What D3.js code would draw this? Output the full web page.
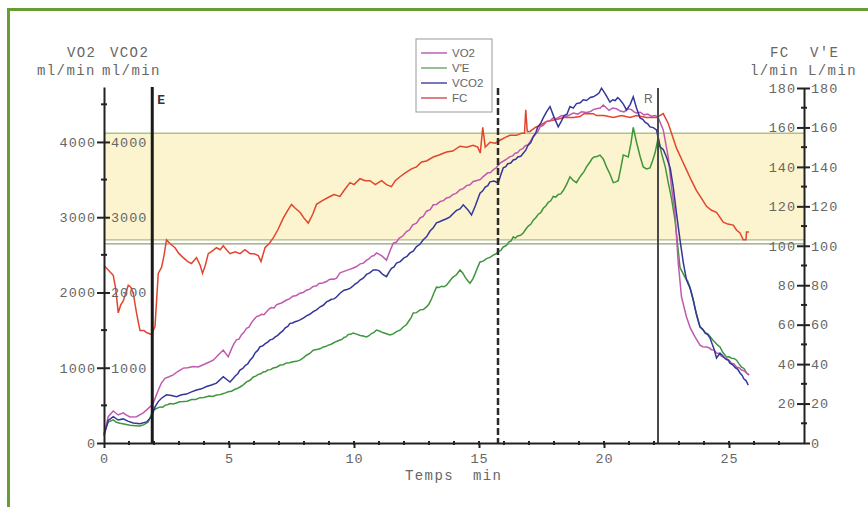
<!DOCTYPE html>
<html>
<head>
<meta charset="utf-8">
<script src="https://cdn.jsdelivr.net/npm/d3@7"></script>
<style>
  body { margin: 0; background: #fff; }
  svg { display: block; }
</style>
</head>
<body>
<svg id="chart" width="868" height="507"></svg>
<script>
// tick values
const xMajor = [0, 5, 10, 15, 20, 25];
const leftOuterTicks = [0, 1000, 2000, 3000, 4000];
const leftInnerTicks = [1000, 2000, 3000, 4000];
const rightOuterTicks = [0, 20, 40, 60, 80, 100, 120, 140, 160, 180];
const rightInnerTicks = [20, 40, 60, 80, 100, 120, 140, 160, 180];

// target zone (FC, 1/min) and event markers (min)
const zoneTop = 157, zoneBottom = 103, zoneBottom2 = 101;
const markE = 1.93, markSeuil = 15.76, markR = 22.16;

// series [temps min, value]
const fcData = [[0,90],[0.15,88],[0.37,85],[0.47,78],[0.57,66],[0.67,70],[0.77,72],[0.97,80],[1.07,79],[1.17,76],[1.3,66],[1.44,57],[1.6,57],[1.7,56],[1.9,55],[2.04,59],[2.17,86],[2.3,89],[2.4,95],[2.5,103],[2.65,101],[2.84,99],[3.0,96],[3.17,94],[3.35,92],[3.5,91],[3.7,94],[3.85,90],[3.94,86],[4.05,90],[4.17,96],[4.3,97],[4.5,99],[4.65,98],[4.77,100],[4.9,98],[5.04,96],[5.25,97],[5.44,96],[5.64,98],[5.84,96],[6.0,96],[6.17,95],[6.28,92],[6.44,99],[6.6,101],[6.77,104],[6.95,108],[7.17,114],[7.35,118],[7.5,121],[7.65,119],[7.84,117],[8.0,114],[8.17,111.5],[8.35,116],[8.5,121],[8.75,123],[9.04,125],[9.2,126],[9.44,125],[9.6,128],[9.84,132],[10.0,131],[10.24,134],[10.45,133],[10.64,133],[10.85,131],[11.1,133],[11.3,131],[11.5,130],[11.65,133],[11.84,135],[12.05,137],[12.3,139],[12.5,140],[12.7,142.5],[12.9,143],[13.17,145],[13.4,146],[13.7,147.5],[13.95,148],[14.24,150.5],[14.5,150],[14.77,151],[14.95,150],[15.05,147],[15.15,160],[15.25,150],[15.44,152.5],[15.65,152],[15.84,153.5],[16.05,155],[16.24,156],[16.5,156],[16.7,157],[16.82,157],[16.87,169],[16.93,158],[17.04,158],[17.25,160],[17.44,161],[17.7,163],[18.1,164],[18.4,165],[18.77,165],[19.04,165.5],[19.2,167],[19.57,167],[19.7,166],[20.0,166],[20.37,165],[20.7,166],[21.04,165],[21.3,166],[21.7,165],[22.1,165],[22.37,167],[22.57,162],[22.9,149.5],[23.1,144],[23.3,138.5],[23.5,133],[23.7,128],[23.9,124],[24.1,120],[24.3,118],[24.5,117],[24.77,112],[24.95,111],[25.17,110.5],[25.3,108],[25.44,106.5],[25.57,103],[25.68,103],[25.7,107],[25.8,107]];

const vo2Data = [[0,100],[0.17,350],[0.37,425],[0.57,372],[0.77,400],[0.9,370],[1.04,345],[1.3,350],[1.57,400],[1.84,480],[1.97,530],[2.17,700],[2.3,800],[2.44,860],[2.6,880],[2.77,905],[2.95,950],[3.17,995],[3.35,1000],[3.57,1015],[3.77,1010],[3.97,1040],[4.17,1070],[4.37,1100],[4.6,1180],[4.77,1235],[4.97,1145],[5.1,1250],[5.2,1320],[5.3,1370],[5.4,1380],[5.5,1440],[5.6,1470],[5.7,1525],[5.8,1540],[5.9,1600],[6.0,1640],[6.1,1680],[6.2,1690],[6.3,1710],[6.4,1705],[6.5,1745],[6.6,1780],[6.7,1800],[6.8,1795],[6.9,1835],[7.0,1850],[7.1,1860],[7.2,1880],[7.3,1900],[7.42,1915],[7.55,1950],[7.7,1960],[7.84,1990],[7.97,2000],[8.1,2030],[8.23,2045],[8.37,2080],[8.5,2090],[8.6,2120],[8.75,2125],[8.9,2145],[9.0,2170],[9.1,2180],[9.2,2175],[9.3,2190],[9.44,2260],[9.6,2280],[9.77,2300],[9.97,2325],[10.1,2345],[10.25,2380],[10.38,2390],[10.5,2430],[10.6,2445],[10.7,2480],[10.8,2490],[10.9,2525],[11.1,2490],[11.3,2430],[11.45,2560],[11.57,2655],[11.7,2670],[11.8,2720],[11.95,2750],[12.1,2810],[12.22,2830],[12.35,2900],[12.5,2920],[12.64,2990],[12.77,3010],[12.9,3080],[13.05,3100],[13.17,3165],[13.3,3170],[13.45,3210],[13.58,3220],[13.7,3255],[13.82,3265],[13.95,3300],[14.1,3320],[14.24,3365],[14.37,3380],[14.5,3420],[14.64,3430],[14.77,3475],[14.95,3490],[15.05,3500],[15.17,3540],[15.35,3590],[15.45,3590],[15.57,3630],[15.7,3660],[15.84,3720],[16.05,3760],[16.24,3805],[16.35,3815],[16.45,3850],[16.55,3860],[16.64,3895],[16.75,3910],[16.85,3950],[16.95,3960],[17.04,4000],[17.15,4060],[17.25,4100],[17.35,4130],[17.44,4200],[17.57,4220],[17.7,4270],[17.84,4280],[17.97,4320],[18.1,4310],[18.3,4350],[18.5,4340],[18.77,4385],[18.95,4370],[19.1,4400],[19.3,4390],[19.44,4400],[19.57,4430],[19.7,4440],[19.85,4450],[19.97,4490],[20.1,4450],[20.2,4420],[20.35,4450],[20.5,4440],[20.65,4410],[20.8,4400],[20.95,4440],[21.1,4430],[21.2,4400],[21.3,4385],[21.45,4395],[21.6,4360],[21.75,4370],[21.9,4340],[22.05,4350],[22.16,4330],[22.37,4160],[22.57,3800],[22.7,3400],[22.84,3055],[22.97,2390],[23.1,1940],[23.3,1675],[23.45,1530],[23.64,1410],[23.84,1300],[23.95,1280],[24.1,1275],[24.2,1265],[24.3,1240],[24.4,1235],[24.5,1195],[24.6,1190],[24.7,1150],[24.8,1140],[24.9,1105],[25.0,1100],[25.1,1060],[25.2,1050],[25.3,1010],[25.4,1000],[25.5,970],[25.6,960],[25.7,930],[25.8,905]];

const vco2Data = [[0,100],[0.17,300],[0.37,350],[0.57,305],[0.77,320],[0.95,290],[1.17,265],[1.44,255],[1.7,280],[1.9,350],[2.04,480],[2.17,550],[2.3,595],[2.5,640],[2.7,630],[2.9,615],[3.1,640],[3.3,650],[3.5,680],[3.7,705],[3.9,720],[4.1,750],[4.3,770],[4.5,795],[4.77,880],[5.04,810],[5.15,850],[5.25,890],[5.35,920],[5.44,970],[5.55,990],[5.65,1030],[5.75,1050],[5.84,1100],[5.95,1140],[6.05,1200],[6.15,1230],[6.24,1280],[6.35,1290],[6.45,1320],[6.55,1340],[6.64,1370],[6.75,1380],[6.85,1410],[6.95,1430],[7.04,1460],[7.15,1490],[7.25,1530],[7.35,1550],[7.44,1590],[7.54,1595],[7.64,1610],[7.74,1620],[7.84,1635],[7.97,1660],[8.1,1690],[8.23,1710],[8.37,1745],[8.5,1770],[8.65,1810],[8.77,1830],[8.9,1875],[9.0,1890],[9.1,1910],[9.2,1915],[9.3,1940],[9.44,1990],[9.6,2030],[9.72,2040],[9.84,2055],[9.94,2080],[10.04,2110],[10.14,2130],[10.24,2165],[10.37,2190],[10.5,2240],[10.63,2260],[10.77,2300],[10.9,2300],[11.0,2290],[11.15,2240],[11.3,2210],[11.4,2270],[11.5,2320],[11.6,2340],[11.7,2390],[11.85,2410],[12.0,2460],[12.12,2480],[12.24,2525],[12.37,2550],[12.5,2610],[12.64,2640],[12.77,2700],[12.9,2740],[13.05,2820],[13.17,2860],[13.3,2925],[13.42,2940],[13.55,2960],[13.7,2980],[13.84,3005],[13.97,3050],[14.1,3090],[14.24,3110],[14.37,3165],[14.55,3100],[14.7,3030],[14.85,3150],[14.95,3240],[15.04,3320],[15.15,3350],[15.25,3400],[15.35,3420],[15.44,3470],[15.6,3480],[15.77,3455],[15.87,3560],[15.97,3655],[16.07,3670],[16.15,3710],[16.27,3720],[16.37,3760],[16.47,3770],[16.55,3800],[16.67,3810],[16.77,3850],[16.87,3890],[16.95,3950],[17.07,3990],[17.17,4070],[17.27,4120],[17.35,4200],[17.47,4250],[17.57,4320],[17.7,4400],[17.84,4470],[18.0,4330],[18.17,4200],[18.3,4280],[18.4,4350],[18.52,4370],[18.64,4470],[18.77,4450],[18.9,4510],[19.05,4520],[19.17,4560],[19.3,4550],[19.45,4590],[19.57,4600],[19.7,4625],[19.8,4650],[19.9,4715],[20.05,4640],[20.24,4530],[20.35,4560],[20.45,4550],[20.55,4590],[20.64,4560],[20.78,4500],[20.9,4425],[21.05,4500],[21.17,4600],[21.3,4450],[21.44,4320],[21.55,4300],[21.65,4260],[21.75,4240],[21.84,4200],[21.97,4190],[22.1,4160],[22.24,3935],[22.37,3900],[22.5,3800],[22.65,3650],[22.77,3400],[22.9,3050],[23.04,2700],[23.17,2400],[23.3,2165],[23.45,2050],[23.57,1900],[23.7,1700],[23.84,1540],[23.95,1510],[24.05,1460],[24.15,1440],[24.24,1395],[24.4,1250],[24.5,1130],[24.64,1195],[24.75,1160],[24.85,1120],[24.95,1110],[25.04,1060],[25.15,1040],[25.25,1000],[25.35,980],[25.44,930],[25.52,900],[25.6,850],[25.68,830],[25.77,770]];

const veData = [[0,5],[0.17,10.6],[0.37,11.7],[0.5,10.5],[0.64,10],[0.85,9.5],[1.04,9],[1.25,8.8],[1.44,8.6],[1.6,9.3],[1.77,10.6],[1.97,16.7],[2.1,17.5],[2.24,18.3],[2.35,18.1],[2.45,19.2],[2.55,19.4],[2.64,20],[2.77,19.8],[2.9,20.3],[3.03,20.9],[3.17,21],[3.33,21.2],[3.5,22],[3.67,22.1],[3.84,23],[4.0,23.1],[4.2,23.8],[4.35,23.6],[4.5,24.3],[4.62,24.4],[4.75,25],[4.86,25.4],[4.97,26],[5.1,26.2],[5.2,27],[5.32,27.6],[5.44,28.4],[5.57,29.5],[5.7,31],[5.84,31.8],[5.97,33.5],[6.07,33.9],[6.17,34.8],[6.27,35.1],[6.37,36],[6.47,36.2],[6.55,37],[6.66,37.2],[6.77,38],[6.9,38.4],[7.05,39.5],[7.17,39.7],[7.3,40.6],[7.42,40.7],[7.55,41.2],[7.7,41.4],[7.84,42],[7.97,43.2],[8.1,44.5],[8.23,45.4],[8.37,47],[8.55,47.5],[8.66,47.9],[8.77,48.7],[8.86,48.9],[8.95,49.5],[9.06,49.9],[9.17,50.7],[9.3,51.5],[9.44,52.2],[9.52,52.5],[9.6,53.5],[9.68,53.8],[9.77,55],[9.87,55.1],[9.97,55.8],[10.1,55.2],[10.25,54.5],[10.37,54.3],[10.5,53.8],[10.6,54.4],[10.7,55.5],[10.8,56.1],[10.9,57.3],[11.02,56.8],[11.15,56],[11.3,55.4],[11.44,54.8],[11.57,55.3],[11.7,56.5],[11.84,57.2],[11.97,58.8],[12.1,60.1],[12.2,62],[12.28,63.4],[12.37,65.9],[12.5,66.1],[12.65,67.5],[12.77,67.7],[12.9,69],[13.0,70.5],[13.1,73],[13.2,76.2],[13.3,79],[13.4,78.8],[13.5,79.5],[13.6,79.2],[13.7,80],[13.83,82.1],[13.95,84],[14.1,85.3],[14.24,87.7],[14.35,86.2],[14.45,84],[14.55,82.3],[14.64,81],[14.75,83.1],[14.85,86],[14.95,89.2],[15.04,91.8],[15.17,92.2],[15.3,93.5],[15.44,94.1],[15.57,95.3],[15.67,95.8],[15.77,97],[15.87,97.6],[15.97,99.4],[16.1,100.2],[16.2,102],[16.28,102.4],[16.37,104.5],[16.45,103.9],[16.55,105],[16.66,105.3],[16.77,106.5],[16.87,108.4],[16.97,110],[17.07,110.9],[17.17,113],[17.27,114.2],[17.37,116],[17.47,116.8],[17.57,119],[17.67,120.2],[17.77,122],[17.87,122.8],[17.97,125],[18.07,124.7],[18.17,126],[18.27,126.3],[18.37,128],[18.5,131],[18.64,135],[18.78,133],[18.9,132],[19.0,134.2],[19.1,136],[19.2,137.6],[19.3,140],[19.44,142.5],[19.52,144.1],[19.6,145],[19.72,145.3],[19.84,146],[19.97,144],[20.1,140],[20.25,136],[20.37,132],[20.47,132.4],[20.57,133],[20.67,139.2],[20.77,146],[20.87,145.6],[20.97,145],[21.08,152],[21.17,160],[21.3,152.5],[21.45,145],[21.57,140],[21.7,139],[21.84,139.5],[21.94,143],[22.04,147],[22.17,155],[22.3,147],[22.45,140],[22.57,132],[22.7,124],[22.84,113],[22.95,100],[23.04,89],[23.14,86.5],[23.24,84],[23.34,82.3],[23.44,79],[23.55,73.5],[23.65,68],[23.75,63.2],[23.84,59],[23.95,57.6],[24.05,56],[24.15,55.4],[24.24,54],[24.35,52.2],[24.45,51],[24.55,49.6],[24.64,48.7],[24.75,46],[24.83,44.8],[24.9,43.6],[25.0,43.7],[25.1,43],[25.2,42.9],[25.3,42],[25.4,40.1],[25.5,38.5],[25.6,37.8],[25.7,35.5],[25.8,34.5]];

const legendNames = ["VO2", "V'E", "VCO2", "FC"];
const legendColors = ["#c88ac8", "#98c098", "#7878b8", "#e08080"];

const svg = d3.select("#chart");
const MONO = "Liberation Mono, Courier New, monospace";

var x = d3.scaleLinear().domain([0, 28]).range([104, 804]);
var yL = d3.scaleLinear().domain([0, 4730]).range([443, 87]);
var yR = d3.scaleLinear().domain([0, 180]).range([443, 88]);

// green frame
svg.append("path")
    .attr("d", "M8.5,507 L8.5,9.5 L868,9.5")
    .attr("fill", "none")
    .attr("stroke", "#6a9c34")
    .attr("stroke-width", 3);

// target zone
svg.append("rect")
    .attr("x", x(0)).attr("width", x(28) - x(0))
    .attr("y", yR(zoneTop)).attr("height", yR(zoneBottom) - yR(zoneTop))
    .attr("fill", "#fcf4cf");
svg.append("line")
    .attr("x1", x(0)).attr("x2", x(28))
    .attr("y1", yR(zoneTop)).attr("y2", yR(zoneTop))
    .attr("stroke", "#a9c485").attr("stroke-width", 1.5);
[zoneBottom, zoneBottom2].forEach(function (v, i) {
    svg.append("line")
        .attr("x1", x(0)).attr("x2", x(28))
        .attr("y1", yR(v)).attr("y2", yR(v))
        .attr("stroke", i ? "#9a9a7a" : "#a9bd85").attr("stroke-width", 1.3);
});

// series
var lineL = d3.line().x(d => x(d[0])).y(d => yL(d[1]));
var lineR = d3.line().x(d => x(d[0])).y(d => yR(d[1]));

svg.append("path").datum(fcData).attr("d", lineR)
    .attr("fill", "none").attr("stroke", "#e2452e").attr("stroke-width", 1.5);
svg.append("path").datum(veData).attr("d", lineR)
    .attr("fill", "none").attr("stroke", "#3e963a").attr("stroke-width", 1.5);
svg.append("path").datum(vo2Data).attr("d", lineL)
    .attr("fill", "none").attr("stroke", "#c05aae").attr("stroke-width", 1.5);
svg.append("path").datum(vco2Data).attr("d", lineL)
    .attr("fill", "none").attr("stroke", "#34369a").attr("stroke-width", 1.5);

// event markers
svg.append("line")
    .attr("x1", x(markE)).attr("x2", x(markE)).attr("y1", 87).attr("y2", 443)
    .attr("stroke", "#1a1a1a").attr("stroke-width", 3);
svg.append("line")
    .attr("x1", x(markSeuil)).attr("x2", x(markSeuil)).attr("y1", 88).attr("y2", 443)
    .attr("stroke", "#2a2a2a").attr("stroke-width", 2.5).attr("stroke-dasharray", "7,3");
svg.append("line")
    .attr("x1", x(markR)).attr("x2", x(markR)).attr("y1", 88).attr("y2", 443)
    .attr("stroke", "#4a4a4a").attr("stroke-width", 2);
svg.append("text").attr("x", x(markE) + 5).attr("y", 104)
    .attr("font-family", MONO).attr("font-weight", "bold")
    .attr("font-size", 13).attr("fill", "#333").text("E");
svg.append("text").attr("x", x(markR) - 14).attr("y", 103)
    .attr("font-family", "Liberation Sans, Arial, sans-serif")
    .attr("font-size", 12).attr("fill", "#666").text("R");

// axes
var fmt = d3.format("d");
function styleAxis(g) {
    g.selectAll("path, line").attr("stroke", "#222").attr("stroke-width", 2);
    g.selectAll("text").attr("font-family", MONO).attr("font-size", 13.5)
        .attr("letter-spacing", 1).attr("fill", "#666");
}

svg.append("g").attr("transform", "translate(0,443)")
    .call(d3.axisBottom(x).tickValues(xMajor).tickFormat(fmt).tickSize(5).tickPadding(5).tickSizeOuter(0))
    .call(styleAxis);
svg.append("g").selectAll("line").data(d3.range(1, 28)).enter().append("line")
    .attr("x1", d => x(d)).attr("x2", d => x(d)).attr("y1", 441).attr("y2", 445)
    .attr("stroke", "#222").attr("stroke-width", 2);

svg.append("g").attr("transform", "translate(" + x(0) + ",0)")
    .call(d3.axisLeft(yL).tickValues(leftOuterTicks).tickFormat(fmt).tickSize(7).tickPadding(1).tickSizeOuter(0))
    .call(styleAxis);
svg.append("g").attr("transform", "translate(" + x(0) + ",0)")
    .call(d3.axisRight(yL).tickValues(leftInnerTicks).tickFormat(fmt).tickSize(6).tickPadding(1).tickSizeOuter(0))
    .call(g => g.select(".domain").remove())
    .call(styleAxis);
svg.append("g").selectAll("line").data(d3.range(500, 4730, 1000)).enter().append("line")
    .attr("x1", x(0) - 3).attr("x2", x(0) + 3).attr("y1", d => yL(d)).attr("y2", d => yL(d))
    .attr("stroke", "#222").attr("stroke-width", 2);

svg.append("g").attr("transform", "translate(" + x(28) + ",0)")
    .call(d3.axisLeft(yR).tickValues(rightInnerTicks).tickFormat(fmt).tickSize(7).tickPadding(1).tickSizeOuter(0))
    .call(styleAxis);
svg.append("g").attr("transform", "translate(" + x(28) + ",0)")
    .call(d3.axisRight(yR).tickValues(rightOuterTicks).tickFormat(fmt).tickSize(6).tickPadding(1).tickSizeOuter(0))
    .call(g => g.select(".domain").remove())
    .call(styleAxis);
svg.append("g").selectAll("line").data(d3.range(10, 180, 20)).enter().append("line")
    .attr("x1", x(28) - 3).attr("x2", x(28) + 3).attr("y1", d => yR(d)).attr("y2", d => yR(d))
    .attr("stroke", "#222").attr("stroke-width", 2);

// axis titles
function title(txt, tx, ty) {
    svg.append("text").attr("x", tx).attr("y", ty)
        .attr("font-family", MONO).attr("fill", "#666")
        .attr("font-size", 14).attr("letter-spacing", 1.4).text(txt);
}
title("VO2", 67, 57);
title("VCO2", 110, 57);
title("ml/min", 37, 75);
title("ml/min", 102, 75);
title("FC", 770, 57);
title("V'E", 810, 57);
title("l/min", 750, 75);
title("L/min", 808, 75);
title("Temps", 405, 480);
title("min", 473, 480);

// legend
var legend = svg.append("g");
legend.append("rect")
    .attr("x", 416).attr("y", 39).attr("width", 76).attr("height", 73)
    .attr("fill", "#fff").attr("stroke", "#999").attr("stroke-width", 1);
legendNames.forEach(function (name, i) {
    var ly = 53 + i * 15;
    legend.append("line").attr("x1", 421).attr("x2", 447).attr("y1", ly).attr("y2", ly)
        .attr("stroke", legendColors[i]).attr("stroke-width", 2);
    legend.append("text").attr("x", 452).attr("y", ly + 4)
        .attr("font-family", "Liberation Sans, Arial, sans-serif").attr("font-size", 11.5)
        .attr("fill", "#666").text(name);
});
</script>
</body>
</html>
